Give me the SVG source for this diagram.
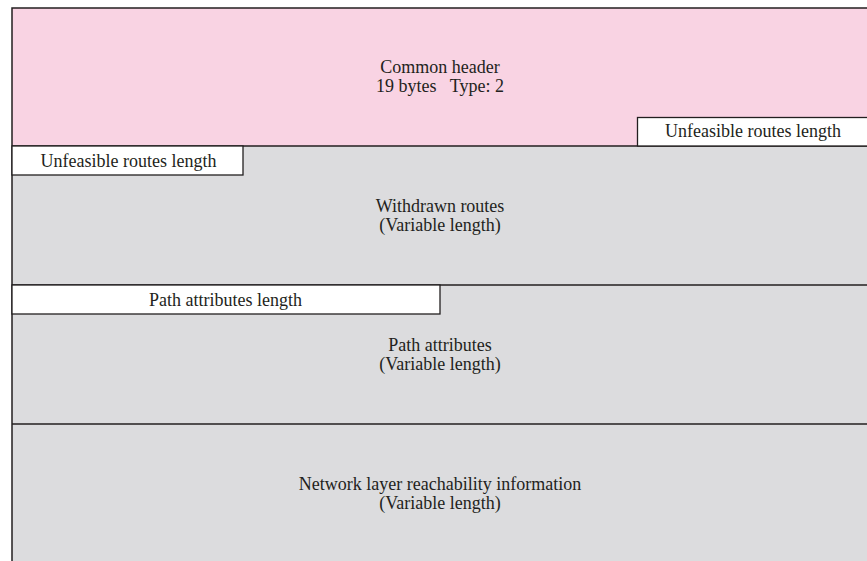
<svg xmlns="http://www.w3.org/2000/svg" width="867" height="561" viewBox="0 0 867 561">
<style>
.t{font-family:"Liberation Serif","Times New Roman",serif;font-size:18px;fill:#231f20;text-anchor:middle}
.ln{stroke:#231f20;stroke-width:1.5;fill:none}
.box{fill:#ffffff;stroke:#231f20;stroke-width:1.3}
</style>
<rect width="867" height="561" fill="#ffffff"/>
<g id="header">
<rect x="12" y="8" width="855" height="138" fill="#f9d3e3"/>
<text class="t" x="440" y="73">Common header</text>
<text class="t" x="440" y="92" xml:space="preserve">19 bytes   Type: 2</text>
</g>
<g id="withdrawn">
<rect x="12" y="146" width="855" height="139" fill="#dcdcde"/>
<text class="t" x="440" y="212">Withdrawn routes</text>
<text class="t" x="440" y="231">(Variable length)</text>
</g>
<g id="pathattr">
<rect x="12" y="285" width="855" height="139" fill="#dcdcde"/>
<text class="t" x="440" y="351">Path attributes</text>
<text class="t" x="440" y="370">(Variable length)</text>
</g>
<g id="nlri">
<rect x="12" y="424" width="855" height="137" fill="#dcdcde"/>
<text class="t" x="440" y="490">Network layer reachability information</text>
<text class="t" x="440" y="509">(Variable length)</text>
</g>
<g id="lines">
<path class="ln" d="M867 8 H12 V561"/>
<path class="ln" d="M12 146 H867 M12 285 H867 M12 424 H867"/>
</g>
<g id="unfeasible-right">
<rect class="box" x="637.5" y="117.5" width="231" height="28.5"/>
<text class="t" x="753" y="137">Unfeasible routes length</text>
</g>
<g id="unfeasible-left">
<rect class="box" x="12" y="146" width="231" height="29"/>
<text class="t" x="128.5" y="166.5">Unfeasible routes length</text>
</g>
<g id="pathattr-length">
<rect class="box" x="12" y="285" width="428" height="29"/>
<text class="t" x="225.5" y="305.5">Path attributes length</text>
</g>
</svg>
